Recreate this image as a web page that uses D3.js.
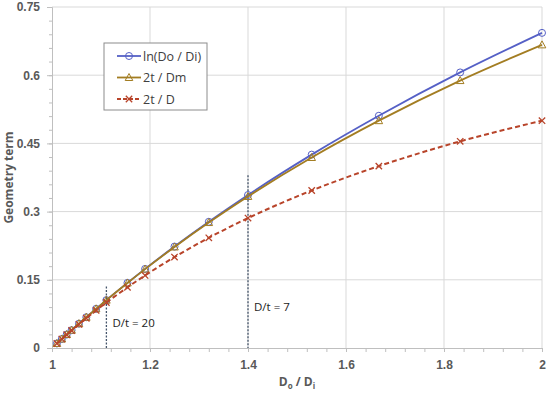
<!DOCTYPE html>
<html>
<head>
<meta charset="utf-8">
<script src="https://cdn.jsdelivr.net/npm/d3@7"></script>
<style>
    html, body { margin: 0; padding: 0; background: #fff; }
    svg { display: block; font-family: "Open Sans", "Liberation Sans", sans-serif; }
</style>
</head>
<body>
<div id="chart"></div>
<script>
(function geometryChart() {
    'use strict';

    /* data */

    var ratios = [1.01, 1.02, 1.03, 1.04, 1.055, 1.07, 1.09, 1.111, 1.154, 1.19,
        1.25, 1.32, 1.4, 1.53, 1.667, 1.833, 2];
    var lnRatio = [0.0100, 0.0198, 0.0296, 0.0392, 0.0535, 0.0677, 0.0862, 0.1053, 0.1432, 0.1740,
        0.2231, 0.2776, 0.3365, 0.4253, 0.5108, 0.6061, 0.6931];
    var twoTOverDm = [0.0100, 0.0198, 0.0296, 0.0392, 0.0535, 0.0676, 0.0861, 0.1052, 0.1430, 0.1735,
        0.2222, 0.2759, 0.3333, 0.4190, 0.5000, 0.5882, 0.6667];
    var twoTOverD = [0.0099, 0.0196, 0.0291, 0.0385, 0.0521, 0.0654, 0.0826, 0.1000, 0.1334, 0.1597,
        0.2000, 0.2424, 0.2857, 0.3464, 0.4000, 0.4545, 0.5000];

    var seriesNames = ['ln(Do / Di)', '2t / Dm', '2t / D'];
    var xTicks = [1, 1.2, 1.4, 1.6, 1.8, 2];
    var yTicks = [0, 0.15, 0.3, 0.45, 0.6, 0.75];

    var markers = [
        { ratio: 1.111, label: 'D/t = 20', top: 0.135 },
        { ratio: 1.4, label: 'D/t = 7', top: 0.38 }
    ];

    /* layout */

    var width = 550, height = 393;
    var margin = { top: 7, right: 8, bottom: 45, left: 52 };

    var svg = d3.select('#chart').append('svg')
        .attr('width', width)
        .attr('height', height)
    ;

    var x = d3.scaleLinear().domain([1, 2]).range([margin.left, width - margin.right]);
    var y = d3.scaleLinear().domain([0, 0.75]).range([height - margin.bottom, margin.top]);

    var colors = ['#5560c6', '#a37d22', '#b8442a'];

    /* --- grid */

    var grid = svg.append('g').attr('class', 'grid');

    grid.selectAll('line.gy')
        .data(yTicks.slice(1))
        .enter().append('line')
        .attr('class', 'gy')
        .attr('x1', x(1)).attr('x2', x(2))
        .attr('y1', function (d) { return y(d); })
        .attr('y2', function (d) { return y(d); })
        .attr('stroke', '#d9d9d9')
        .attr('stroke-width', 1)
    ;

    grid.selectAll('line.gx')
        .data(xTicks.slice(1))
        .enter().append('line')
        .attr('class', 'gx')
        .attr('y1', y(0)).attr('y2', y(0.75))
        .attr('x1', function (d) { return x(d); })
        .attr('x2', function (d) { return x(d); })
        .attr('stroke', '#d9d9d9')
        .attr('stroke-width', 1)
    ;

    /* --- axes */

    var xAxis = svg.append('g')
        .attr('transform', 'translate(0,' + y(0) + ')')
        .call(d3.axisBottom(x).tickValues(d3.range(1, 2.001, 0.04)).tickSize(4).tickFormat(''))
    ;
    xAxis.append('g')
        .call(d3.axisBottom(x).tickValues(xTicks).tickSize(0).tickPadding(12).tickFormat(d3.format('')))
        .select('.domain').remove()
    ;

    var yAxis = svg.append('g')
        .attr('transform', 'translate(' + x(1) + ',0)')
        .call(d3.axisLeft(y).tickValues(d3.range(0, 0.7501, 0.03)).tickSize(3).tickFormat(''))
    ;
    yAxis.append('g')
        .call(d3.axisLeft(y).tickValues(yTicks).tickSize(5).tickPadding(7).tickFormat(d3.format('')))
        .select('.domain').remove()
    ;

    svg.selectAll('.domain, .tick line').attr('stroke', '#bfbfbf');
    svg.selectAll('.tick text')
        .attr('fill', '#595959')
        .attr('font-size', 12)
        .attr('font-weight', 'bold')
    ;

    /* --- axis titles */

    svg.append('text')
        .attr('transform', 'translate(13,' + y(0.375) + ') rotate(-90)')
        .attr('text-anchor', 'middle')
        .attr('font-size', 12)
        .attr('font-weight', 'bold')
        .attr('fill', '#595959')
        .text('Geometry term')
    ;

    var xTitle = svg.append('text')
        .attr('x', x(1.5))
        .attr('y', 386)
        .attr('text-anchor', 'middle')
        .attr('font-size', 12)
        .attr('font-weight', 'bold')
        .attr('fill', '#595959')
    ;
    xTitle.append('tspan').text('D');
    xTitle.append('tspan').attr('font-size', 8).attr('dy', 3).text('o');
    xTitle.append('tspan').attr('dy', -3).text(' / D');
    xTitle.append('tspan').attr('font-size', 8).attr('dy', 3).text('i');

    /* --- D/t markers */

    var dt = svg.append('g').attr('class', 'dt');

    dt.selectAll('line')
        .data(markers)
        .enter().append('line')
        .attr('x1', function (d) { return x(d.ratio); })
        .attr('x2', function (d) { return x(d.ratio); })
        .attr('y1', function (d) { return y(d.top); })
        .attr('y2', y(0))
        .attr('stroke', '#44546a')
        .attr('stroke-width', 1.3)
        .attr('stroke-dasharray', '2,1.5')
    ;

    dt.selectAll('text')
        .data(markers)
        .enter().append('text')
        .attr('x', function (d) { return x(d.ratio) + 6; })
        .attr('y', function (d) { return d.ratio < 1.2 ? 327 : 311; })
        .attr('font-size', 11.5)
        .attr('fill', '#222')
        .text(function (d) { return d.label; })
    ;

    /* --- series */

    var allSeries = [lnRatio, twoTOverDm, twoTOverD];

    var line = d3.line()
        .x(function (d) { return x(d[0]); })
        .y(function (d) { return y(d[1]); })
        .curve(d3.curveMonotoneX)
    ;

    function drawMarker(g, kind, color) {
        if (kind === 0) {
            g.append('circle').attr('r', 3.5)
                .attr('fill', 'none').attr('stroke', color).attr('stroke-width', 1);
        } else if (kind === 1) {
            g.append('path').attr('d', 'M0,-4L3.8,3L-3.8,3Z')
                .attr('fill', 'none').attr('stroke', color).attr('stroke-width', 1);
        } else {
            g.append('path').attr('d', 'M-3.2,-3.2L3.2,3.2M-3.2,3.2L3.2,-3.2')
                .attr('stroke', color).attr('stroke-width', 1.3);
        }
    }

    allSeries.forEach(function (values, i) {
        var pts = ratios.map(function (r, k) { return [r, values[k]]; });
        var g = svg.append('g').attr('class', 'series-' + i);

        g.append('path')
            .datum(pts)
            .attr('d', line)
            .attr('fill', 'none')
            .attr('stroke', colors[i])
            .attr('stroke-width', i === 2 ? 2 : 1.8)
            .attr('stroke-dasharray', i === 2 ? '5,3' : null)
        ;

        g.selectAll('g.pt')
            .data(pts)
            .enter().append('g')
            .attr('class', 'pt')
            .attr('transform', function (d) { return 'translate(' + x(d[0]) + ',' + y(d[1]) + ')'; })
            .each(function () { drawMarker(d3.select(this), i, colors[i]); })
        ;
    });

    /* --- legend */

    var legend = svg.append('g').attr('transform', 'translate(104,43)');

    legend.append('rect')
        .attr('width', 103).attr('height', 67)
        .attr('fill', '#fff')
        .attr('stroke', '#8c8c8c')
        .attr('stroke-width', 1)
    ;

    seriesNames.forEach(function (name, i) {
        var row = legend.append('g').attr('transform', 'translate(0,' + (13 + i * 21.5) + ')');
        row.append('line')
            .attr('x1', 13).attr('x2', 37)
            .attr('stroke', colors[i])
            .attr('stroke-width', i === 2 ? 2 : 1.8)
            .attr('stroke-dasharray', i === 2 ? '4,2' : null)
        ;
        drawMarker(row.append('g').attr('transform', 'translate(25,0)'), i, colors[i]);
        row.append('text')
            .attr('x', 39).attr('y', 4.5)
            .attr('font-size', 12.5)
            .attr('fill', '#404040')
            .text(name)
        ;
    });
})();
</script>
</body>
</html>
